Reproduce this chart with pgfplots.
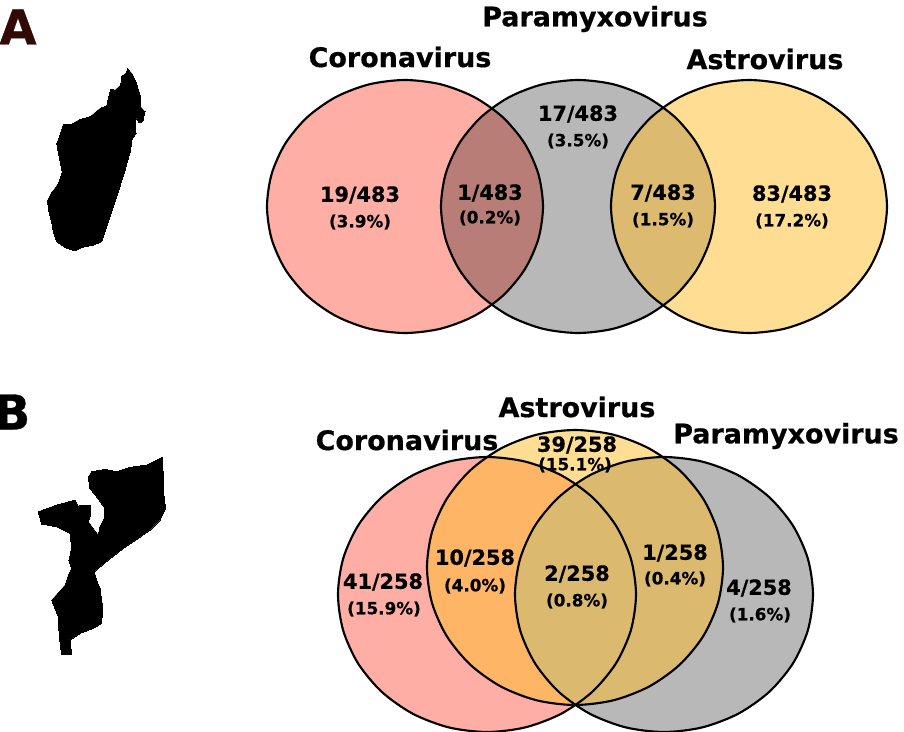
\documentclass[border=0pt]{standalone}
\usepackage{fontspec}
\setmainfont[BoldFeatures={FakeBold=0.6}]{DejaVu Sans}
\usepackage{pgfplots}
\usepackage{pgfplotstable}
\pgfplotsset{compat=1.18}

\definecolor{corona}{RGB}{255,174,165}
\definecolor{astro}{RGB}{255,189,41}
\definecolor{para}{RGB}{184,184,184}
\definecolor{letterA}{RGB}{50,10,5}

% unit circle, every 15 degrees
\pgfplotstableread{
u y
1.0000 0.0000
0.9659 0.2588
0.8660 0.5000
0.7071 0.7071
0.5000 0.8660
0.2588 0.9659
0.0000 1.0000
-0.2588 0.9659
-0.5000 0.8660
-0.7071 0.7071
-0.8660 0.5000
-0.9659 0.2588
-1.0000 0.0000
-0.9659 -0.2588
-0.8660 -0.5000
-0.7071 -0.7071
-0.5000 -0.8660
-0.2588 -0.9659
0.0000 -1.0000
0.2588 -0.9659
0.5000 -0.8660
0.7071 -0.7071
0.8660 -0.5000
0.9659 -0.2588
}\unitcircle

% #1 style, #2 cx, #3 cy, #4 rx, #5 ry
\newcommand{\venn}[5]{\addplot[#1,smooth cycle,line width=1.6pt] table[x expr={#2+#4*\thisrow{u}},y expr={#3+#5*\thisrow{y}}]{\unitcircle};}
\newcommand{\head}[3]{\node[font=\fontsize{20.2pt}{22pt}\bfseries] at (axis cs:#1,#2) {#3};}
\newcommand{\nlab}[3]{\node[font=\fontsize{15.6pt}{17pt}\bfseries] at (axis cs:#1,#2) {#3};}
\newcommand{\plab}[3]{\node[font=\fontsize{12.6pt}{14pt}\bfseries] at (axis cs:#1,#2) {#3};}

\begin{document}
\begin{tikzpicture}
\begin{axis}[
  scale only axis, width=678pt, height=549pt,
  xmin=0, xmax=904, ymin=0, ymax=732, y dir=reverse,
  axis lines=none, clip=false]

% Madagascar outline
\addplot[black,fill=black,line width=0pt] table[row sep=\\,x expr=\thisrow{x}/3,y expr=\thisrow{y}/3] {
x y\\ 383 205\\ 397 222\\ 410 250\\ 420 285\\ 422 320\\ 435 335\\ 428 365\\ 418 368\\ 405 350\\ 408 400\\ 395 420\\ 392 450\\ 375 510\\ 350 590\\ 320 680\\ 305 725\\ 280 735\\ 245 742\\ 225 752\\ 195 742\\ 170 725\\ 160 695\\ 155 665\\ 145 625\\ 143 600\\ 155 578\\ 175 550\\ 187 515\\ 180 480\\ 170 430\\ 180 405\\ 190 373\\ 215 372\\ 240 358\\ 270 350\\ 300 325\\ 320 318\\ 325 295\\ 332 268\\ 345 270\\ 362 255\\ 365 228\\ 378 220\\ 383 205\\
};

% Mozambique outline
\addplot[black,fill=black,line width=0pt] table[row sep=\\,x expr=\thisrow{x}/3,y expr=\thisrow{y}/3+380] {
x y\\ 487 232\\ 490 290\\ 492 350\\ 497 385\\ 480 420\\ 450 450\\ 410 478\\ 370 505\\ 325 540\\ 283 575\\ 290 600\\ 300 625\\ 308 680\\ 305 730\\ 280 745\\ 240 760\\ 210 780\\ 215 822\\ 185 822\\ 178 770\\ 175 710\\ 155 660\\ 195 615\\ 205 585\\ 215 565\\ 207 540\\ 215 500\\ 210 460\\ 170 440\\ 125 432\\ 115 395\\ 170 375\\ 225 360\\ 235 378\\ 270 375\\ 272 405\\ 265 425\\ 295 465\\ 300 440\\ 315 410\\ 315 385\\ 290 350\\ 270 325\\ 265 290\\ 275 275\\ 315 268\\ 350 275\\ 390 262\\ 440 255\\ 487 232\\
};

% panel A
\venn{draw=none,fill=corona}{405}{206.5}{138}{126.5}
\venn{draw=none,fill=black,fill opacity=0.28}{578}{206.5}{137}{126.5}
\venn{draw=none,fill=astro,fill opacity=0.5}{749}{206.5}{138}{126.5}
\venn{draw=black,fill=none}{405}{206.5}{138}{126.5}
\venn{draw=black,fill=none}{578}{206.5}{137}{126.5}
\venn{draw=black,fill=none}{749}{206.5}{138}{126.5}

% panel B
\venn{draw=none,fill=corona}{487}{594.5}{149}{137.5}
\venn{draw=none,fill=para}{664}{594.5}{149}{137.5}
\venn{draw=none,fill=astro,fill opacity=0.5}{575}{567.5}{148}{137.5}
\venn{draw=black,fill=none}{487}{594.5}{149}{137.5}
\venn{draw=black,fill=none}{664}{594.5}{149}{137.5}
\venn{draw=black,fill=none}{575}{567.5}{148}{137.5}

% panel letters
\node[font=\fontsize{36pt}{38pt}\bfseries,text=letterA] at (axis cs:18,27) {A};
\node[font=\fontsize{36pt}{38pt}\bfseries] at (axis cs:12,412) {B};

\head{595}{19}{Paramyxovirus}
\head{400}{57}{Coronavirus}
\head{765}{59}{Astrovirus}
\nlab{360}{195}{19/483} \plab{360}{222}{(3.9\%)}
\nlab{490}{193}{1/483} \plab{490}{218}{(0.2\%)}
\nlab{578}{114}{17/483} \plab{578}{141}{(3.5\%)}
\nlab{663}{193}{7/483} \plab{663}{220}{(1.5\%)}
\nlab{792}{194}{83/483} \plab{792}{221}{(17.2\%)}

\head{577}{407}{Astrovirus}
\head{407}{440}{Coronavirus}
\head{786}{436}{Paramyxovirus}
\nlab{577}{445}{39/258} \plab{575}{465}{(15.1\%)}
\nlab{383}{582}{41/258} \plab{384}{609}{(15.9\%)}
\nlab{475}{558}{10/258} \plab{475}{586}{(4.0\%)}
\nlab{577}{574}{2/258} \plab{577}{601}{(0.8\%)}
\nlab{675}{553}{1/258} \plab{675}{579}{(0.4\%)}
\nlab{759}{588}{4/258} \plab{760}{615}{(1.6\%)}

\end{axis}
\pgfresetboundingbox
\path[use as bounding box] (0,0) rectangle (678pt,549pt);
\end{tikzpicture}
\end{document}
